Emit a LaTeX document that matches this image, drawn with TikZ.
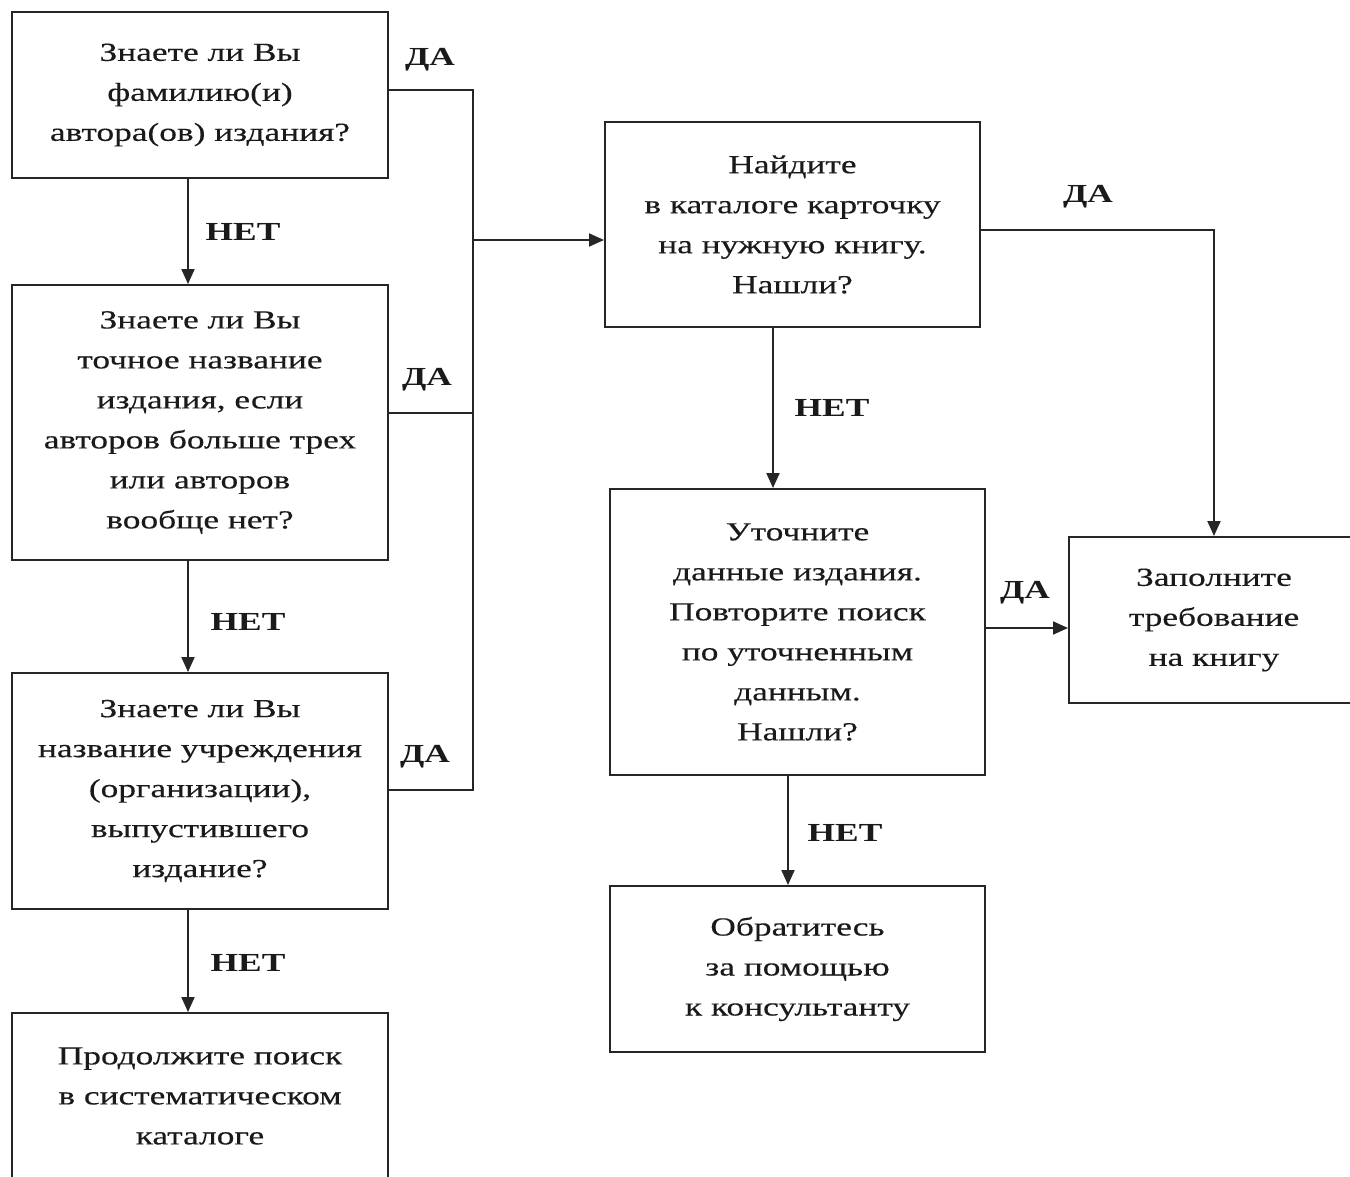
\documentclass[tikz,border=0pt]{standalone}
\usepackage{fontspec}
\setmainfont[FakeStretch=1.36,UprightFeatures={FakeBold=0.3}]{Liberation Serif}
\usetikzlibrary{arrows.meta,calc}
\definecolor{ink}{HTML}{1A1A1A}
\definecolor{wire}{HTML}{262626}
\begin{document}
\begin{tikzpicture}[x=1pt,y=-1pt,
  box/.style={draw=wire,line width=2pt,inner sep=0pt,align=center,text=ink,
    font=\fontsize{26}{40}\selectfont},
  lbl/.style={text=ink,font=\bfseries\fontsize{26}{30}\selectfont,inner sep=0pt},
  conn/.style={draw=wire,line width=2pt},
  arr/.style={conn,-{Triangle[length=15pt,width=13pt]}}]
\useasboundingbox (0,0) rectangle (1350,1176);
\fill[white] (0,0) rectangle (1350,1176);
\clip (0,0) rectangle (1350,1176);

% left column
\node[box,minimum width=376pt,minimum height=166pt] (A) at (200,95)
  {Знаете ли Вы\\фамилию(и)\\автора(ов) издания?};
\node[box,minimum width=376pt,minimum height=275pt] (B) at (200,422.5)
  {Знаете ли Вы\\точное название\\издания, если\\авторов больше трех\\или авторов\\вообще нет?};
\node[box,minimum width=376pt,minimum height=236pt] (C) at (200,791)
  {Знаете ли Вы\\название учреждения\\(организации),\\выпустившего\\издание?};
\node[box,minimum width=376pt,minimum height=166pt] (D) at (200,1096)
  {Продолжите поиск\\в систематическом\\каталоге};

% middle column
\node[box,minimum width=375pt,minimum height=205pt] (E) at (792.5,224.5)
  {Найдите\\в каталоге карточку\\на нужную книгу.\\Нашли?};
\node[box,minimum width=375pt,minimum height=286pt] (F) at (797.5,632)
  {Уточните\\данные издания.\\Повторите поиск\\по уточненным\\данным.\\Нашли?};
\node[box,minimum width=375pt,minimum height=166pt] (H) at (797.5,969)
  {Обратитесь\\за помощью\\к консультанту};

% right
\node[box,minimum width=290pt,minimum height=166pt] (G) at (1214,620)
  {Заполните\\требование\\на книгу};

% bus on the left
\coordinate (bt) at (473,90);
\coordinate (bb) at (473,790);
\coordinate (bm) at (473,240);
\draw[conn] (A.east |- bt) -- (bt) -- (bb) -- (C.east |- bb);
\draw[conn] (B.east |- 0,413) -- (473,413);
\draw[arr] (bm) -- (E.west |- bm);

% vertical NO arrows, left
\draw[arr] (A.south -| 188,0) -- (B.north -| 188,0);
\draw[arr] (B.south -| 188,0) -- (C.north -| 188,0);
\draw[arr] (C.south -| 188,0) -- (D.north -| 188,0);

% middle arrows
\draw[arr] (E.south -| 773,0) -- (F.north -| 773,0);
\draw[arr] (F.south -| 788,0) -- (H.north -| 788,0);
\draw[arr] (E.east |- 0,230) -| (G.north);
\draw[arr] (F.east |- 0,628) -- (G.west |- 0,628);

% labels
\node[lbl] (l1) at (430,60) {ДА};
\node[lbl] (l2) at (427,380) {ДА};
\node[lbl] (l3) at (425,757) {ДА};
\node[lbl] (l4) at (1088,197) {ДА};
\node[lbl] (l5) at (1025,593) {ДА};
\node[lbl] (n1) at (243,232) {НЕТ};
\node[lbl] (n2) at (248,622) {НЕТ};
\node[lbl] (n3) at (248,963) {НЕТ};
\node[lbl] (n4) at (832,408) {НЕТ};
\node[lbl] (n5) at (845,833) {НЕТ};
\end{tikzpicture}
\end{document}
